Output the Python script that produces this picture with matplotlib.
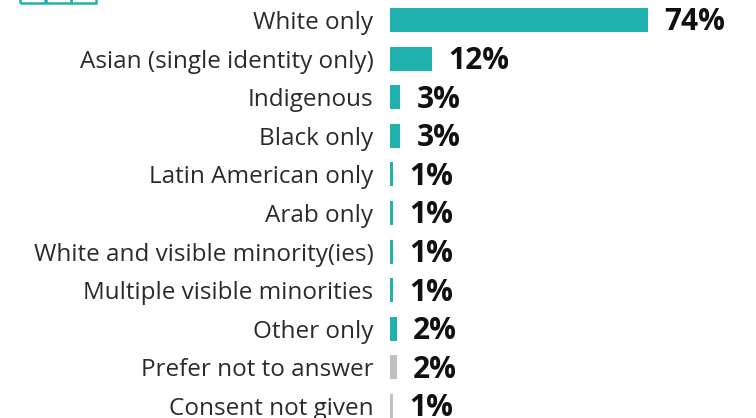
import matplotlib.pyplot as plt
from matplotlib.patches import Rectangle

categories = ["White only", "Asian (single identity only)", "Indigenous", "Black only",
              "Latin American only", "Arab only", "White and visible minority(ies)",
              "Multiple visible minorities", "Other only", "Prefer not to answer",
              "Consent not given"]
values = [74, 12, 3, 3, 1, 1, 1, 1, 2, 2, 1]
colors = ["#20b2ae"] * 9 + ["#c0c0c0"] * 2

plt.rcParams['font.family'] = ['Open Sans', 'DejaVu Sans']

W, H = 756, 418
fig = plt.figure(figsize=(W / 100, H / 100), dpi=100)
px = 3.49  # pixels per percent
row = 38.6
ax = fig.add_axes([390 / W, 0, (W - 390) / W, 1])
ax.set_xlim(0, (W - 390) / px)
ax.set_ylim(10 + (H - 406) / row, -20 / row)

y = list(range(len(categories)))
ax.barh(y, values, height=0.62, color=colors)
for yi, v in zip(y, values):
    ax.text(v + 16 / px, yi + 0.06, f"{v}%", va="center", ha="left",
            fontsize=21.5, fontweight="bold", color="#111111")

ax.set_yticks(y)
ax.set_yticklabels(categories, fontsize=17.5, color="#2b2b2b")
ax.tick_params(axis="y", length=0, pad=12)
ax.set_xticks([])
for s in ax.spines.values():
    s.set_visible(False)

# partial icon at top-left
for x0 in (20, 45.5, 71):
    fig.patches.append(Rectangle((x0 / W, 1 - 3 / H), 25 / W, 20 / H,
                                 transform=fig.transFigure, fill=False,
                                 edgecolor="#20b2ae", linewidth=1.8))

fig.savefig("out.png", dpi=100)
